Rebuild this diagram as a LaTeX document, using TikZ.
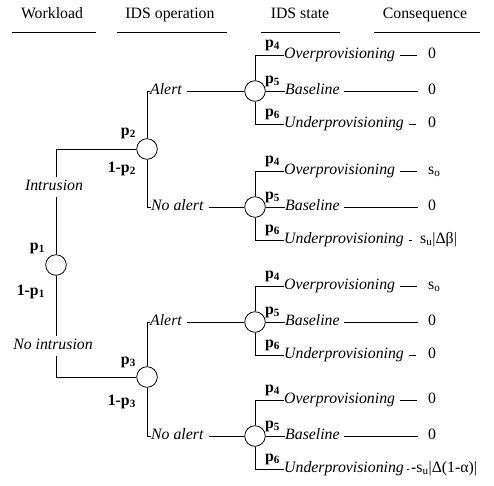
\documentclass[tikz,border=0pt]{standalone}
\usepackage{fontspec}
\setmainfont{Liberation Serif}
\begin{document}
\begin{tikzpicture}[x=1pt,y=-1pt,
  every node/.style={font=\fontsize{15.8}{18}\selectfont},
  dnode/.style={circle,draw,fill=white,minimum size=20.6pt,inner sep=0pt,line width=0.8pt},
  lbl/.style={inner sep=0pt,text height=10.8pt,text depth=3.5pt},
  it/.style={lbl,font=\fontsize{15.8}{18}\selectfont\itshape},
  prob/.style={inner sep=0pt,font=\fontsize{15.8}{18}\selectfont\bfseries},
  conn/.style={line width=0.8pt},
  gap/.style={shorten <=4.5pt}
]
\useasboundingbox (0,0) rectangle (494,485);

% headers
\node[lbl] (h1) at (52,15) {Workload};
\node[lbl] (h2) at (170,15) {IDS operation};
\node[lbl] (h3) at (300,15) {IDS state};
\node[lbl] (h4) at (425,15) {Consequence};
\draw[conn] (12,32) -- (96,32);
\draw[conn] (117,32) -- (227,32);
\draw[conn] (261,32) -- (340,32);
\draw[conn] (374,32) -- (480,32);

% chance nodes
\node[dnode] (c1) at (56,265) {};
\node[dnode] (c2) at (147,149) {};
\node[dnode] (c3) at (147,377) {};
\node[dnode] (s1) at (255,91) {};
\node[dnode] (s2) at (255,207) {};
\node[dnode] (s3) at (255,322) {};
\node[dnode] (s4) at (255,436) {};

% IDS operation labels
\node[it,anchor=west] (a1) at (150,91) {Alert};
\node[it,anchor=west] (n1) at (151,207) {No alert};
\node[it,anchor=west] (a2) at (150,322) {Alert};
\node[it,anchor=west] (n2) at (151,436) {No alert};

% workload connectors
\draw[conn] (c1.north) |- (c2.west);
\draw[conn] (c1.south) |- (c3.west);
\node[it,fill=white,inner xsep=2pt,inner ysep=3pt] (wi) at (54,187) {Intrusion};
\node[it,fill=white,inner xsep=2pt,inner ysep=3pt] (wn) at (53,346) {No intrusion};

% operation connectors
\draw[conn] (c2.north) |- (a1.west);
\draw[conn] (c2.south) |- (n1.west);
\draw[conn] (c3.north) |- (a2.west);
\draw[conn] (c3.south) |- (n2.west);
\draw[conn,shorten <=5pt] (a1.east) -- (s1.west);
\draw[conn,shorten <=5pt] (n1.east) -- (s2.west);
\draw[conn,shorten <=5pt] (a2.east) -- (s3.west);
\draw[conn,shorten <=5pt] (n2.east) -- (s4.west);

% probability labels
\node[prob,anchor=east] (p1) at (45,248) {p\textsubscript{1}};
\node[prob,anchor=east] (q1) at (45,292) {1-p\textsubscript{1}};
\node[prob,anchor=east] (p2) at (136,133) {p\textsubscript{2}};
\node[prob,anchor=east] (q2) at (136,169) {1-p\textsubscript{2}};
\node[prob,anchor=east] (p3) at (136,362) {p\textsubscript{3}};
\node[prob,anchor=east] (q3) at (136,402) {1-p\textsubscript{3}};

% IDS state branches
\foreach \i/\Y in {1/91,2/207,3/322,4/436}{
  \node[it,anchor=west] (o\i) at (284,\Y-36) {Overprovisioning};
  \node[it,anchor=west] (b\i) at (285,\Y) {Baseline};
  \node[it,anchor=west] (u\i) at (284,\Y+33) {Underprovisioning};
  \node[prob,anchor=west] (pf\i) at (265,\Y-46) {p\textsubscript{4}};
  \node[prob,anchor=west] (pg\i) at (265,\Y-10) {p\textsubscript{5}};
  \node[prob,anchor=west] (ph\i) at (265,\Y+23) {p\textsubscript{6}};
  \draw[conn] (s\i.north) |- (o\i.west);
  \draw[conn] (s\i.east) -- (b\i.west);
  \draw[conn] (s\i.south) |- (u\i.west);
}

% consequences
\node[lbl,anchor=west] (vo1) at (428,55) {0};
\node[lbl,anchor=west] (vb1) at (428,91) {0};
\node[lbl,anchor=west] (vu1) at (428,124) {0};
\node[lbl,anchor=west] (vo2) at (428,171) {s\textsubscript{o}};
\node[lbl,anchor=west] (vb2) at (428,207) {0};
\node[lbl,anchor=west] (vu2) at (420,240) {s\textsubscript{u}|Δβ|};
\node[lbl,anchor=west] (vo3) at (428,286) {s\textsubscript{o}};
\node[lbl,anchor=west] (vb3) at (428,322) {0};
\node[lbl,anchor=west] (vu3) at (428,355) {0};
\node[lbl,anchor=west] (vo4) at (428,400) {0};
\node[lbl,anchor=west] (vb4) at (428,436) {0};
\node[lbl,anchor=west] (vu4) at (411,469) {-s\textsubscript{u}|Δ(1-α)|};

\foreach \i in {1,2,3,4}{
  \draw[conn,gap,shorten >=11pt] (o\i.east) -- (o\i.east -| vo\i.west);
  \draw[conn,gap,shorten >=10pt] (b\i.east) -- (b\i.east -| vb\i.west);
}
\draw[conn,gap,shorten >=12pt] (u1.east) -- (u1.east -| vu1.west);
\draw[conn,gap,shorten >=8pt] (u2.east) -- (u2.east -| vu2.west);
\draw[conn,gap,shorten >=12pt] (u3.east) -- (u3.east -| vu3.west);
\draw[conn,shorten <=2.5pt,shorten >=2.5pt] (u4.east) -- (u4.east -| vu4.west);
\end{tikzpicture}
\end{document}
